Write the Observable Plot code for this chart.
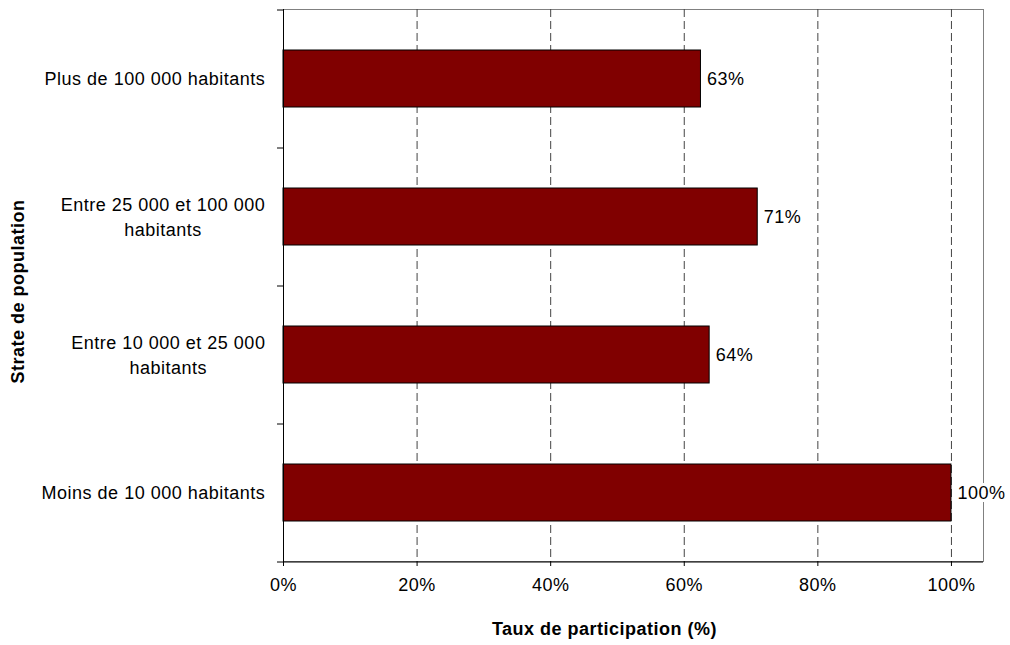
<!DOCTYPE html>
<html><head><meta charset="utf-8">
<script src="https://cdn.jsdelivr.net/npm/d3@7"></script>
<script src="https://cdn.jsdelivr.net/npm/@observablehq/plot@0.6"></script>
<style>body{margin:0;background:#fff}</style>
</head><body><div id="chart"></div>
<script>
// ---- data ----
const categories = ["Plus de 100 000 habitants", "Entre 25 000 et 100 000 habitants", "Entre 10 000 et 25 000 habitants", "Moins de 10 000 habitants"];
const categoryLines = [["Plus de 100 000 habitants"], ["Entre 25 000 et 100 000", "habitants"], ["Entre 10 000 et 25 000", "habitants"], ["Moins de 10 000 habitants"]];
const values = [0.625, 0.71, 0.638, 1.0];
const valueLabels = ["63%", "71%", "64%", "100%"];
const xTicks = [0, 0.2, 0.4, 0.6, 0.8, 1.0];
const xTitle = "Taux de participation (%)";
const yTitle = "Strate de population";

// ---- layout ----
const W = 1010, H = 645, mL = 283, mR = 27, mT = 9, mB = 84;
const frameW = W - mL - mR, frameH = H - mT - mB;
const step = frameH / categories.length;
const FONT = "'Liberation Sans', Arial, sans-serif";
const FS = 18, LS = 0.5, LLS = 0.6;

const data = categories.map((c, i) => ({cat: c, value: values[i], label: valueLabels[i], lines: categoryLines[i].join("\n")}));

const ctx = document.createElement("canvas").getContext("2d");
ctx.font = `${FS}px 'Liberation Sans'`;
const blockWidth = lines => d3.max(lines, l => ctx.measureText(l).width + LLS * l.length);

const labelMarks = data.map((d, i) => Plot.text([d], {
  y: "cat", text: "lines", frameAnchor: "left", textAnchor: "middle",
  dx: -17 - blockWidth(categoryLines[i]) / 2, dy: -1.5, lineHeight: 1.37,
  letterSpacing: LLS + "px", fill: "#000"
}));

const chart = Plot.plot({
  width: W, height: H,
  marginLeft: mL, marginRight: mR, marginTop: mT, marginBottom: mB,
  style: {fontFamily: FONT, fontSize: FS + "px", letterSpacing: LS + "px", background: "#fff", color: "#000"},
  x: {domain: [0, 1.048]},
  y: {domain: categories, paddingInner: 0.59, paddingOuter: 0.295, axis: null},
  marks: [
    Plot.frame({stroke: "#808080", strokeWidth: 1}),
    Plot.ruleX(xTicks.slice(1), {stroke: "#444", strokeWidth: 1, strokeDasharray: "8,4"}),
    Plot.barX(data, {x: "value", y: "cat", fill: "#800000", stroke: "#000", strokeWidth: 1}),
    Plot.ruleX([0], {stroke: "#000", strokeWidth: 1}),
    Plot.ruleY(categories, {dy: -step / 2, insetLeft: -6, insetRight: frameW, stroke: "#000", strokeWidth: 1}),
    Plot.ruleY(categories.slice(-1), {dy: step / 2, insetLeft: -6, stroke: "#000", strokeWidth: 1}),
    Plot.axisX({ticks: xTicks, tickFormat: d3.format(".0%"), tickSize: 5, tickPadding: 12, label: null, stroke: "#000"}),
    Plot.text(data, {x: "value", y: "cat", text: "label", textAnchor: "start", dx: 6, fill: "#000", stroke: "#fff", strokeWidth: 6, paintOrder: "stroke"}),
    ...labelMarks,
    Plot.text([xTitle], {frameAnchor: "bottom", dy: 73, dx: -29, fontWeight: "bold", letterSpacing: "0.9px", fill: "#000"}),
    Plot.text([yTitle], {frameAnchor: "left", textAnchor: "middle", rotate: -90, dx: -265.5, dy: 6, fontWeight: "bold", letterSpacing: "0.9px", fill: "#000"})
  ]
});
document.getElementById("chart").appendChild(chart);
</script>
</body></html>
